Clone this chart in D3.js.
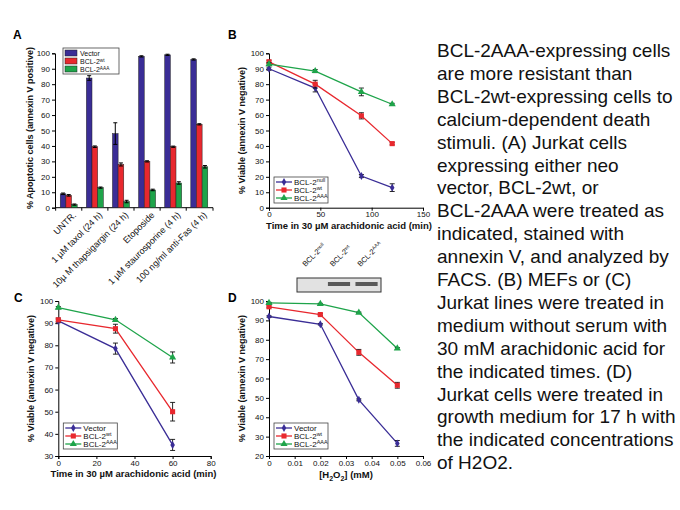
<!DOCTYPE html>
<html>
<head>
<meta charset="utf-8">
<script src="https://cdn.jsdelivr.net/npm/d3@7"></script>
<style>
  body { margin: 0; background: #ffffff; }
  svg text { font-family: "Liberation Sans", Arial, sans-serif; }
</style>
</head>
<body>
<div id="chart"></div>
<script>
var width = 680;
var height = 510;

// panel A - bars
var catsA = ["UNTR.", "1 \u00b5M taxol (24 h)", "10\u00b5 M thapsigargin (24 h)", "Etoposide", "1 \u00b5M staurosporine (4 h)", "100 ng/ml anti-Fas (4 h)"];
var vecA = [9, 84, 48, 98, 99, 96];
var vecAErr = [0.5, 1.5, 7, 0.4, 0.4, 0.4];
var wtA = [8, 39.5, 28, 30, 39.5, 54];
var wtAErr = [0.5, 0.5, 1, 0.4, 0.4, 0.4];
var aaaA = [2, 13, 4, 11.5, 16, 26.5];
var aaaAErr = [0.4, 0.4, 0.8, 0.5, 0.8, 0.8];
var ticksA = [0, 10, 20, 30, 40, 50, 60, 70, 80, 90, 100];

// panel B - MEFs
var timeB = [0, 45, 90, 120];
var nullB = [90, 77.5, 20.5, 13];
var nullBErr = [1, 2.5, 1, 2.5];
var wtB = [94.5, 80, 59.5, 41.5];
var wtBErr = [1, 2.5, 2, 0.8];
var aaaB = [93, 88.5, 75, 67];
var aaaBErr = [1, 1, 2.5, 0.6];
var xTicksB = [0, 50, 100, 150];
var yTicksB = [0, 10, 20, 30, 40, 50, 60, 70, 80, 90, 100];
var blotLanes = ["null", "wt", "AAA"];
var blotBand = [0, 1, 1];

// panel C - Jurkat, arachidonic acid
var timeC = [0, 30, 60];
var vecC = [91, 78.5, 35];
var vecCErr = [0.8, 2.5, 2.5];
var wtC = [91.5, 87.5, 50];
var wtCErr = [0.8, 2, 4.2];
var aaaC = [97, 91.5, 74.5];
var aaaCErr = [0.5, 0.6, 2.5];
var xTicksC = [0, 20, 40, 60, 80];
var yTicksC = [30, 40, 50, 60, 70, 80, 90, 100];

// panel D - H2O2
var concD = [0, 0.02, 0.035, 0.05];
var vecD = [92, 88, 49, 26.5];
var vecDErr = [0.4, 0.4, 0.5, 1.5];
var wtD = [97, 93, 73.5, 56.5];
var wtDErr = [0.5, 0.5, 1.5, 1.5];
var aaaD = [99, 98.5, 94, 75.5];
var aaaDErr = [0.3, 0.3, 0.3, 0.5];
var xTicksD = [0, 0.01, 0.02, 0.03, 0.04, 0.05, 0.06];
var yTicksD = [20, 30, 40, 50, 60, 70, 80, 90, 100];

var caption = [
  "BCL-2AAA-expressing cells",
  "are more resistant than",
  "BCL-2wt-expressing cells to",
  "calcium-dependent death",
  "stimuli. (A) Jurkat cells",
  "expressing either neo",
  "vector, BCL-2wt, or",
  "BCL-2AAA were treated as",
  "indicated, stained with",
  "annexin V, and analyzed by",
  "FACS. (B) MEFs or (C)",
  "Jurkat lines were treated in",
  "medium without serum with",
  "30 mM arachidonic acid for",
  "the indicated times. (D)",
  "Jurkat cells were treated in",
  "growth medium for 17 h with",
  "the indicated concentrations",
  "of H2O2."
];

var purple = "#3a2d96";
var red = "#e8282e";
var green = "#1ea44a";

var svg = d3.select("#chart")
  .append("svg")
  .attr("width", width)
  .attr("height", height);

svg.append("rect").attr("width", width).attr("height", height).attr("fill", "#ffffff");

// label with a superscript, e.g. BCL-2 + "wt"
function supLabel(g, x, y, base, sup, size, rise) {
  var t = g.append("text").attr("x", x).attr("y", y)
    .attr("font-size", size + "px").attr("fill", "#111");
  t.append("tspan").text(base);
  if (sup) {
    t.append("tspan").text(sup).attr("dy", -(rise || size * 0.4)).attr("font-size", (size * 0.68) + "px");
  }
  return t;
}

function styleAxis(g) {
  g.selectAll("path, line").attr("stroke", "#000").attr("stroke-width", 1);
  g.selectAll("text").attr("font-size", "8px").attr("fill", "#111");
}

// ---------- Panel A ----------
(function () {
  var x = d3.scaleBand().domain(catsA).range([55, 213]).paddingInner(0.35).paddingOuter(0.2);
  var y = d3.scaleLinear().domain([0, 100]).range([207.7, 53.3]);
  var sub = d3.scaleBand().domain([0, 1, 2]).range([0, x.bandwidth()]);
  var g = svg.append("g");

  g.append("text").text("A").attr("x", 13).attr("y", 39)
    .attr("font-size", "12px").attr("font-weight", "bold");

  var yAxis = g.append("g").attr("transform", "translate(55,0)")
    .call(d3.axisLeft(y).tickValues(ticksA).tickSize(3).tickPadding(2));
  styleAxis(yAxis);

  // x axis with ticks between the groups
  var bounds = catsA.map(function (c) { return x(c) - x.step() * x.paddingInner() / 2; });
  bounds.push(213);
  g.append("line").attr("x1", 55).attr("x2", 213).attr("y1", y(0)).attr("y2", y(0)).attr("stroke", "#000");
  g.selectAll(".tka").data(bounds).enter().append("line")
    .attr("x1", function (d) { return d; }).attr("x2", function (d) { return d; })
    .attr("y1", y(0)).attr("y2", y(0) + 3).attr("stroke", "#000");

  var series = [
    { v: vecA, e: vecAErr, c: purple },
    { v: wtA, e: wtAErr, c: red },
    { v: aaaA, e: aaaAErr, c: green }
  ];
  series.forEach(function (s, si) {
    g.selectAll(".bar" + si).data(catsA).enter().append("rect")
      .attr("x", function (d) { return x(d) + sub(si); })
      .attr("y", function (d, i) { return y(s.v[i]); })
      .attr("width", sub.bandwidth())
      .attr("height", function (d, i) { return y(0) - y(s.v[i]); })
      .attr("fill", s.c).attr("stroke", "#222").attr("stroke-width", 0.5);
    g.selectAll(".err" + si).data(catsA).enter().append("path")
      .attr("d", function (d, i) {
        var cx = x(d) + sub(si) + sub.bandwidth() / 2;
        var y1 = y(s.v[i] + s.e[i]), y2 = y(s.v[i] - s.e[i]);
        return "M" + cx + "," + y1 + "V" + y2 + "M" + (cx - 2) + "," + y1 + "H" + (cx + 2) + "M" + (cx - 2) + "," + y2 + "H" + (cx + 2);
      })
      .attr("stroke", "#000").attr("stroke-width", 1).attr("fill", "none");
  });

  g.selectAll(".cat").data(catsA).enter().append("text")
    .text(function (d) { return d; })
    .attr("transform", function (d) {
      return "translate(" + (x(d) + x.bandwidth() / 2 + 8) + "," + (y(0) + 8) + ") rotate(-45)";
    })
    .attr("text-anchor", "end").attr("font-size", "9px").attr("fill", "#111");

  g.append("text").text("% Apoptotic cells (annexin V positive)")
    .attr("transform", "translate(33,128) rotate(-90)")
    .attr("text-anchor", "middle").attr("font-size", "9px").attr("font-weight", "bold").attr("fill", "#111");

  // legend
  var lg = g.append("g");
  lg.append("rect").attr("x", 63).attr("y", 48).attr("width", 56).attr("height", 26)
    .attr("fill", "#fff").attr("stroke", "#444").attr("stroke-width", 0.8);
  var items = [["Vector", ""], ["BCL-2", "wt"], ["BCL-2", "AAA"]];
  items.forEach(function (it, i) {
    lg.append("rect").attr("x", 65).attr("y", 50 + i * 8).attr("width", 12).attr("height", 6)
      .attr("fill", series[i].c).attr("stroke", "#222").attr("stroke-width", 0.5);
    supLabel(lg, 80, 56 + i * 8, it[0], it[1], 7, 2);
  });
})();

// ---------- line panels ----------
function linePanel(opt) {
  var g = svg.append("g");
  var x = d3.scaleLinear().domain(opt.xDomain).range([opt.x0, opt.x1]);
  var y = d3.scaleLinear().domain(opt.yDomain).range([opt.y0, opt.y1]);

  g.append("text").text(opt.letter).attr("x", opt.lx).attr("y", opt.ly)
    .attr("font-size", "12px").attr("font-weight", "bold");

  var xa = g.append("g").attr("transform", "translate(0," + opt.y0 + ")")
    .call(d3.axisBottom(x).tickValues(opt.xTicks).tickSize(3).tickPadding(1).tickFormat(opt.xFmt || d3.format("")));
  styleAxis(xa);
  var ya = g.append("g").attr("transform", "translate(" + opt.x0 + ",0)")
    .call(d3.axisLeft(y).tickValues(opt.yTicks).tickSize(3).tickPadding(2));
  styleAxis(ya);

  var line = d3.line().x(function (d) { return x(d[0]); }).y(function (d) { return y(d[1]); });
  var shapes = [d3.symbolDiamond, d3.symbolSquare, d3.symbolTriangle];
  var sizes = [18, 26, 22];
  var colors = [purple, red, green];

  opt.series.forEach(function (s, si) {
    var pts = opt.xs.map(function (xv, i) { return [xv, s.v[i], s.e[i]]; });
    g.append("path").datum(pts).attr("d", line)
      .attr("fill", "none").attr("stroke", colors[si]).attr("stroke-width", 1.3);
  });
  opt.series.forEach(function (s, si) {
    var pts = opt.xs.map(function (xv, i) { return [xv, s.v[i], s.e[i]]; });
    g.selectAll(".eb" + si).data(pts).enter().append("path")
      .attr("d", function (d) {
        var cx = x(d[0]), y1 = y(d[1] + d[2]), y2 = y(d[1] - d[2]);
        return "M" + cx + "," + y1 + "V" + y2 + "M" + (cx - 2.5) + "," + y1 + "H" + (cx + 2.5) + "M" + (cx - 2.5) + "," + y2 + "H" + (cx + 2.5);
      })
      .attr("stroke", "#111").attr("stroke-width", 0.9).attr("fill", "none");
    g.selectAll(".mk" + si).data(pts).enter().append("path")
      .attr("d", d3.symbol().type(shapes[si]).size(sizes[si]))
      .attr("transform", function (d) { return "translate(" + x(d[0]) + "," + y(d[1]) + ")"; })
      .attr("fill", colors[si]);
  });

  // axis titles
  var xt = g.append("text").attr("x", (opt.x0 + opt.x1) / 2 + opt.xtShift).attr("y", opt.y0 + opt.xtDy)
    .attr("text-anchor", "middle").attr("font-size", "9.5px").attr("font-weight", "bold").attr("fill", "#111");
  opt.xTitle(xt);
  g.append("text").text("% Viable (annexin V negative)")
    .attr("transform", "translate(" + (opt.x0 - 24) + "," + ((opt.y0 + opt.y1) / 2) + ") rotate(-90)")
    .attr("text-anchor", "middle").attr("font-size", "9px").attr("font-weight", "bold").attr("fill", "#111");

  // legend
  var lx = opt.x0 + 5, ly = opt.legY;
  g.append("rect").attr("x", lx).attr("y", ly).attr("width", 54).attr("height", 26)
    .attr("fill", "#fff").attr("stroke", "#444").attr("stroke-width", 0.8);
  opt.names.forEach(function (n, i) {
    var yy = ly + 5 + i * 8;
    g.append("line").attr("x1", lx + 2).attr("x2", lx + 18).attr("y1", yy).attr("y2", yy)
      .attr("stroke", colors[i]).attr("stroke-width", 1.3);
    g.append("path").attr("d", d3.symbol().type(shapes[i]).size(sizes[i]))
      .attr("transform", "translate(" + (lx + 10) + "," + yy + ")").attr("fill", colors[i]);
    supLabel(g, lx + 20, yy + 3, n[0], n[1], 8);
  });
  return g;
}

function arachTitle(t) {
  t.text("Time in 30 \u00b5M arachidonic acid (min)");
}

linePanel({
  letter: "B", lx: 228, ly: 39,
  x0: 269, x1: 423, y0: 207.7, y1: 53.3,
  xDomain: [0, 150], yDomain: [0, 100],
  xTicks: xTicksB, yTicks: yTicksB, xs: timeB,
  series: [{ v: nullB, e: nullBErr }, { v: wtB, e: wtBErr }, { v: aaaB, e: aaaBErr }],
  names: [["BCL-2", "null"], ["BCL-2", "wt"], ["BCL-2", "AAA"]],
  legY: 177, xtShift: 3, xtDy: 21, xTitle: arachTitle
});

linePanel({
  letter: "C", lx: 14, ly: 302,
  x0: 58.3, x1: 210.7, y0: 456, y1: 301,
  xDomain: [0, 80], yDomain: [30, 100],
  xTicks: xTicksC, yTicks: yTicksC, xs: timeC,
  series: [{ v: vecC, e: vecCErr }, { v: wtC, e: wtCErr }, { v: aaaC, e: aaaCErr }],
  names: [["Vector", ""], ["BCL-2", "wt"], ["BCL-2", "AAA"]],
  legY: 423, xtShift: -1, xtDy: 21, xTitle: arachTitle
});

linePanel({
  letter: "D", lx: 228, ly: 302,
  x0: 269, x1: 423, y0: 456, y1: 301,
  xDomain: [0, 0.06], yDomain: [20, 100],
  xTicks: xTicksD, yTicks: yTicksD, xs: concD,
  xFmt: function (d) { return d === 0 ? "0" : d3.format(".2f")(d); },
  series: [{ v: vecD, e: vecDErr }, { v: wtD, e: wtDErr }, { v: aaaD, e: aaaDErr }],
  names: [["Vector", ""], ["BCL-2", "wt"], ["BCL-2", "AAA"]],
  legY: 423, xtShift: 0, xtDy: 22,
  xTitle: function (t) {
    t.append("tspan").text("[H");
    t.append("tspan").text("2").attr("dy", 3).attr("font-size", "7px");
    t.append("tspan").text("O").attr("dy", -3);
    t.append("tspan").text("2").attr("dy", 3).attr("font-size", "7px");
    t.append("tspan").text("] (mM)").attr("dy", -3);
  }
});

// western blot under panel B
(function () {
  var g = svg.append("g");
  var lane = d3.scaleBand().domain(blotLanes).range([297, 381]).padding(0.05);
  g.append("rect").attr("x", 297).attr("y", 278).attr("width", 84).attr("height", 14)
    .attr("fill", "#e2e2e2").attr("stroke", "#333").attr("stroke-width", 1);
  g.selectAll(".band").data(blotLanes).enter().append("rect")
    .attr("x", function (d) { return lane(d) + 2; })
    .attr("y", 282)
    .attr("width", lane.bandwidth() - 4)
    .attr("height", 4)
    .attr("fill", "#5a5a5a")
    .attr("opacity", function (d, i) { return blotBand[i]; });
  blotLanes.forEach(function (d) {
    var t = g.append("text").attr("transform", "translate(" + (lane(d) + 7) + ",267) rotate(-45)")
      .attr("font-size", "7.5px").attr("fill", "#111");
    t.append("tspan").text("BCL-2");
    t.append("tspan").text(d).attr("dy", -2.5).attr("font-size", "5px");
  });
})();

// caption text on the right
svg.selectAll(".cap").data(caption).enter().append("text")
  .text(function (d) { return d; })
  .attr("x", 437)
  .attr("y", function (d, i) { return 57 + i * 22.9; })
  .attr("font-size", "19px")
  .attr("fill", "#111");
</script>
</body>
</html>
